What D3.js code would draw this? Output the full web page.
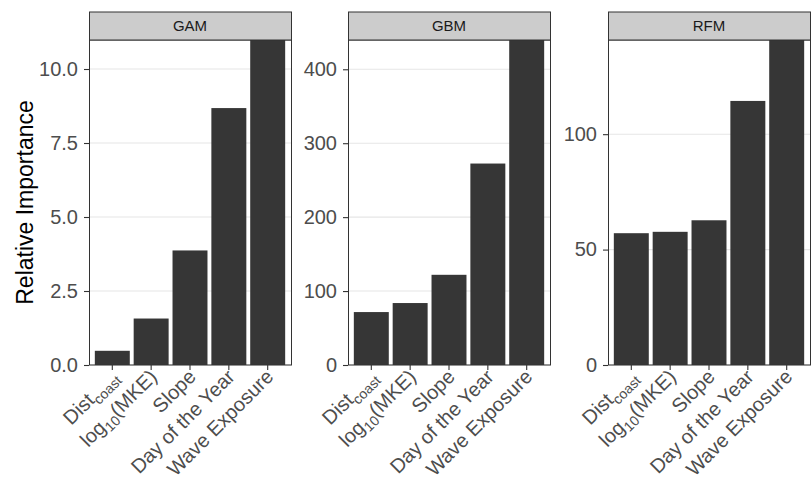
<!DOCTYPE html>
<html>
<head>
<meta charset="utf-8">
<script src="https://cdn.jsdelivr.net/npm/d3@7"></script>
<style>
  body { margin: 0; background: #fff; }
  svg { display: block; font-family: "Liberation Sans", Arial, sans-serif; }
</style>
</head>
<body>
<div id="chart"></div>
<script>
// variables, in plotting order
const variables = ['Dist_coast', 'log10(MKE)', 'Slope', 'Day of the Year', 'Wave Exposure'];

// relative importance per model
const models = ['GAM', 'GBM', 'RFM'];
const gamValues = [0.48, 1.57, 3.87, 8.68, 10.98];
const gbmValues = [71.6, 83.8, 122, 272.5, 439.6];
const rfmValues = [57.1, 57.7, 62.7, 114.4, 140.8];

// y tick values per panel
const gamTicks = [0, 2.5, 5, 7.5, 10];
const gbmTicks = [0, 100, 200, 300, 400];
const rfmTicks = [0, 50, 100];

const panels = [
  { name: models[0], values: gamValues, ticks: gamTicks, fmt: d3.format('.1f') },
  { name: models[1], values: gbmValues, ticks: gbmTicks, fmt: d3.format('d') },
  { name: models[2], values: rfmValues, ticks: rfmTicks, fmt: d3.format('d') },
];

const width = 811, height = 483;
const panelLeft = [89, 348, 608];
const panelW = 202;
const stripTop = 12, panelTop = 40, panelBottom = 365;

const svg = d3.select('#chart')
  .append('svg')
  .attr('width', width)
  .attr('height', height);

// y axis title
svg.append('text')
  .attr('transform', `translate(33,${(panelTop + panelBottom) / 2}) rotate(-90)`)
  .attr('text-anchor', 'middle')
  .attr('font-size', 23)
  .attr('fill', '#000')
  .text('Relative Importance');

// draws the label with subscripts
function labelText(sel, d) {
  const sub = (base, s, rest) => {
    sel.append('tspan').text(base);
    sel.append('tspan').attr('font-size', 14).attr('dy', 5).text(s);
    if (rest) sel.append('tspan').attr('dy', -5).text(rest);
  };
  if (d === 'Dist_coast') sub('Dist', 'coast');
  else if (d === 'log10(MKE)') sub('log', '10', '(MKE)');
  else sel.text(d);
}

panels.forEach((p, i) => {
  const x0 = panelLeft[i];
  const g = svg.append('g').attr('transform', `translate(${x0},0)`);

  const x = d3.scaleBand()
    .domain(variables)
    .range([0, panelW])
    .paddingInner(0.1)
    .paddingOuter(0.15);

  const y = d3.scaleLinear()
    .domain([0, d3.max(p.values)])
    .range([panelBottom, panelTop]);

  // gridlines
  g.append('g')
    .selectAll('line')
    .data(p.ticks)
    .join('line')
    .attr('x1', 0)
    .attr('x2', panelW)
    .attr('y1', d => y(d))
    .attr('y2', d => y(d))
    .attr('stroke', '#e6e6e6')
    .attr('stroke-width', 1.1);

  // bars
  g.append('g')
    .selectAll('rect')
    .data(p.values)
    .join('rect')
    .attr('x', (d, j) => x(variables[j]))
    .attr('width', x.bandwidth())
    .attr('y', d => y(d))
    .attr('height', d => panelBottom - y(d))
    .attr('fill', '#363636');

  // panel border
  g.append('rect')
    .attr('x', 0.5)
    .attr('y', panelTop)
    .attr('width', panelW)
    .attr('height', panelBottom - panelTop)
    .attr('fill', 'none')
    .attr('stroke', '#333')
    .attr('stroke-width', 1);

  // strip
  g.append('rect')
    .attr('x', 0.5)
    .attr('y', stripTop)
    .attr('width', panelW)
    .attr('height', panelTop - stripTop)
    .attr('fill', '#cccccc')
    .attr('stroke', '#333')
    .attr('stroke-width', 1);
  g.append('text')
    .attr('x', panelW / 2)
    .attr('y', (stripTop + panelTop) / 2)
    .attr('dy', '0.36em')
    .attr('text-anchor', 'middle')
    .attr('font-size', 15)
    .attr('fill', '#1a1a1a')
    .text(p.name);

  // y axis
  const yAxis = g.append('g')
    .call(d3.axisLeft(y).tickValues(p.ticks).tickFormat(p.fmt).tickSize(5).tickPadding(6));
  yAxis.select('.domain').remove();
  yAxis.selectAll('.tick line').attr('stroke', '#333').attr('stroke-width', 1.1);
  yAxis.selectAll('.tick text')
    .attr('font-size', 20)
    .attr('fill', '#4d4d4d')
    .attr('font-family', '"Liberation Sans", Arial, sans-serif');

  // x axis
  const xAxis = g.append('g')
    .attr('transform', `translate(0,${panelBottom})`)
    .call(d3.axisBottom(x).tickSize(5).tickFormat(''));
  xAxis.select('.domain').remove();
  xAxis.selectAll('.tick line').attr('stroke', '#333').attr('stroke-width', 1.1);

  g.append('g')
    .selectAll('text')
    .data(variables)
    .join('text')
    .attr('transform', d => `translate(${x(d) + x.bandwidth() / 2 + 7},${panelBottom + 13}) rotate(-45)`)
    .attr('text-anchor', 'end')
    .attr('font-size', 20)
    .attr('fill', '#4d4d4d')
    .each(function (d) { labelText(d3.select(this), d); });
});
</script>
</body>
</html>
